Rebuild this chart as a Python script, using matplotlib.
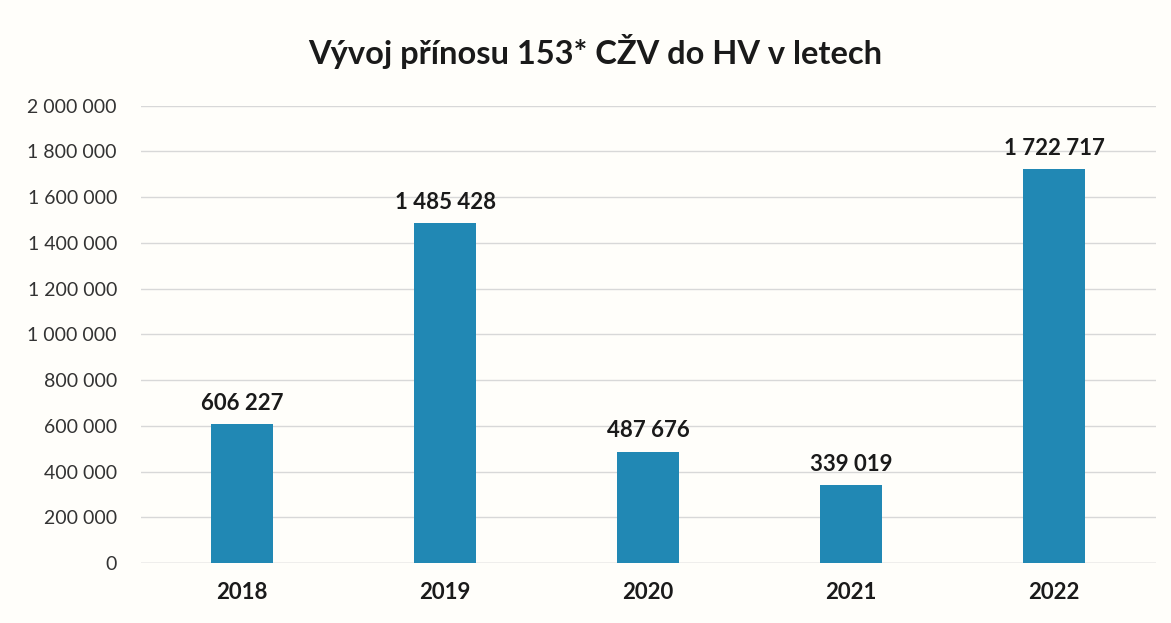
import matplotlib
matplotlib.use("Agg")
import matplotlib.pyplot as plt
from matplotlib.ticker import FuncFormatter

years = ["2018", "2019", "2020", "2021", "2022"]
values = [606227, 1485428, 487676, 339019, 1722717]
yticks = list(range(0, 2000001, 200000))

def fmt(v):
    return f"{int(v):,}".replace(",", " ")

plt.rcParams['font.family'] = ['Lato', 'DejaVu Sans']

fig = plt.figure(figsize=(11.71, 6.23), dpi=100, facecolor='#fffefa')
ax = fig.add_axes([0.12, 0.0963, 0.867, 0.734])
ax.set_facecolor('#fffefa')

x = range(len(years))
bars = ax.bar(x, values, width=0.305, color='#2188b4', zorder=3)
for xi, v in zip(x, values):
    ax.text(xi, v + 45000, fmt(v), ha='center', va='bottom', fontsize=16,
            fontweight='bold', color='#1a1a1a')

ax.set_xlim(-0.5, len(years) - 0.5)
ax.set_ylim(0, 2000000)
ax.set_yticks(yticks)
ax.yaxis.set_major_formatter(FuncFormatter(lambda v, p: fmt(v)))
ax.set_xticks(list(x))
ax.set_xticklabels(years, fontsize=16, fontweight='bold', color='#1a1a1a')
ax.tick_params(axis='y', labelsize=14, colors='#333333', length=0, pad=17)
ax.tick_params(axis='x', length=0, pad=14)
ax.grid(axis='y', color='#d8d8d8', linewidth=1, zorder=0)
for s in ax.spines.values():
    s.set_visible(False)
ax.axhline(0, color='#d0d0d0', linewidth=1, zorder=1)

fig.text(0.508, 0.918, "Vývoj přínosu 153* CŽV do HV v letech", ha='center',
         va='center', fontsize=23.5, fontweight='bold', color='#1a1a1a')

fig.savefig("out.png", dpi=100, facecolor=fig.get_facecolor())
